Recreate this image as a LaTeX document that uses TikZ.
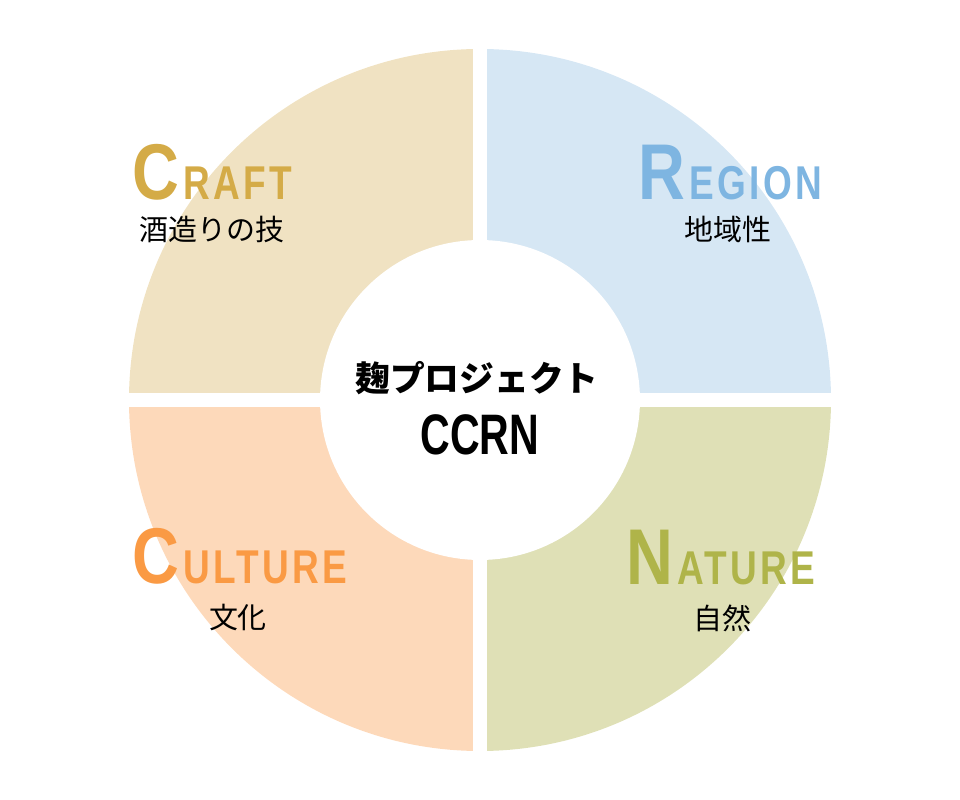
\documentclass[tikz,border=0pt]{standalone}
\usepackage{fontspec}
\setmainfont{Liberation Sans}
\newfontfamily\jpfont{Noto Sans CJK JP}
\newfontfamily\condfont[FakeStretch=0.72]{Liberation Sans}
\newfontfamily\condbig[FakeStretch=0.82]{Liberation Sans}
\newfontfamily\condwide[FakeStretch=0.78,LetterSpace=7]{Liberation Sans}
\newcommand{\capbig}[1]{{\condbig\bfseries\fontsize{45}{45}\selectfont #1}\kern2.5pt}
\newcommand{\capsmall}[1]{{\condwide\bfseries\fontsize{27}{27}\selectfont #1}}

\definecolor{craftfill}{HTML}{F0E2C2}
\definecolor{craftink}{HTML}{D4AB47}
\definecolor{regionfill}{HTML}{D6E7F4}
\definecolor{regionink}{HTML}{7EB5E1}
\definecolor{culturefill}{HTML}{FDD9BA}
\definecolor{cultureink}{HTML}{FA9A44}
\definecolor{naturefill}{HTML}{DFE0B6}
\definecolor{natureink}{HTML}{AFB449}

\begin{document}
\begin{tikzpicture}[x=0.02cm, y=0.02cm,
    title/.style={anchor=base west, inner sep=0pt},
    subtitle/.style={font=\jpfont\fontsize{16.5}{18}\selectfont, inner sep=0pt}]
    \useasboundingbox (-480,-400) rectangle (480,400);

    % quarters
    \fill[craftfill] (0,0) -- (180:351) arc[start angle=180, end angle=90, radius=351] -- cycle;
    \fill[regionfill] (0,0) -- (90:351) arc[start angle=90, end angle=0, radius=351] -- cycle;
    \fill[naturefill] (0,0) -- (0:351) arc[start angle=0, end angle=-90, radius=351] -- cycle;
    \fill[culturefill] (0,0) -- (-90:351) arc[start angle=-90, end angle=-180, radius=351] -- cycle;

    % gaps
    \draw[white, line width=0.28cm] (-360,0) -- (360,0);
    \draw[white, line width=0.28cm] (0,-360) -- (0,360);

    % hub
    \node[circle, fill=white, minimum size=6.4cm, inner sep=0pt] (hub) at (0,0) {};
    \node[font=\jpfont\bfseries\fontsize{19.8}{22}\selectfont, inner sep=0pt] (koji) at (-3,22) {麹プロジェクト};
    \node[font=\condfont\bfseries\fontsize{32.5}{34}\selectfont, anchor=base, inner sep=0pt] (ccrn) at (0,-55) {CCRN};

    % labels
    \node[title, text=craftink] (craft) at (-348,200) {\capbig{C}\capsmall{RAFT}};
    \node[subtitle] (craftjp) at (-268,170) {酒造りの技};

    \node[title, text=regionink] (region) at (158,200) {\capbig{R}\capsmall{EGION}};
    \node[subtitle] (regionjp) at (248,171) {地域性};

    \node[title, text=cultureink] (culture) at (-348,-184) {\capbig{C}\capsmall{ULTURE}};
    \node[subtitle] (culturejp) at (-242,-218) {文化};

    \node[title, text=natureink] (nature) at (146,-185) {\capbig{N}\capsmall{ATURE}};
    \node[subtitle] (naturejp) at (242,-218) {自然};
\end{tikzpicture}
\end{document}
